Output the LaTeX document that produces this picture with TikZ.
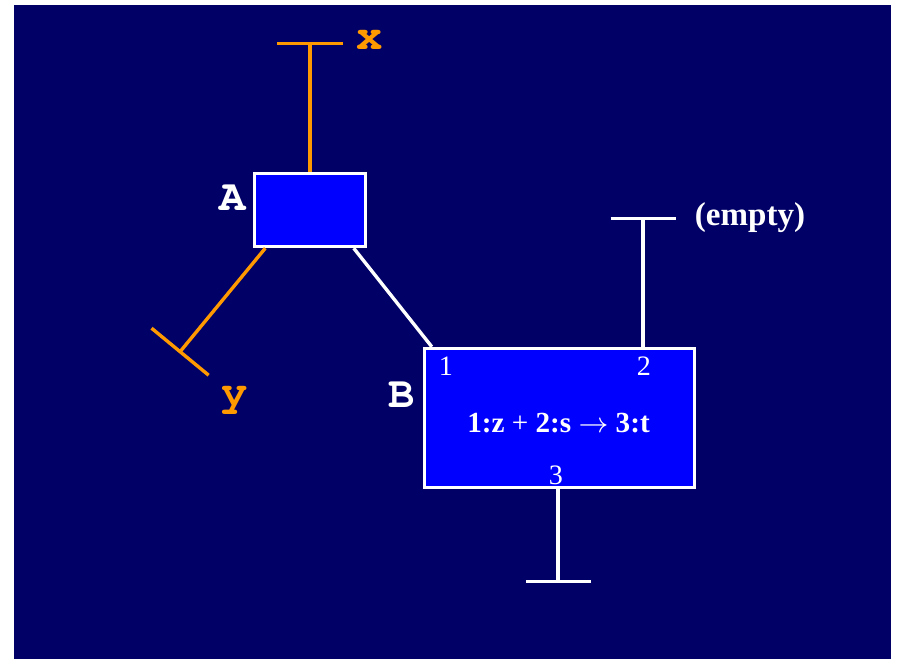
\documentclass[tikz,border=0pt]{standalone}
\usepackage{fontspec}
\setmainfont{Liberation Serif}
\newfontfamily\courierbold{texgyrecursor-bold}[Extension=.otf]
\usepackage{xcolor}
\usetikzlibrary{arrows.meta, calc}
\definecolor{slidebg}{HTML}{000066}
\definecolor{boxblue}{HTML}{0000FF}
\definecolor{wireorange}{HTML}{FF9900}

\begin{document}
\begin{tikzpicture}[
  wire/.style={line width=0.034cm, line cap=butt},
  endbar/.style={-{Bar[width=#1, line width=0.034cm]}},
  endbar/.default=0.66cm,
  cellbox/.style={draw=white, fill=boxblue, line width=0.034cm, inner sep=0pt},
  tag/.style={font=\courierbold\fontsize{12.5}{12.5}\selectfont, text=white},
  portnum/.style={font=\fontsize{8}{8}\selectfont, text=white, inner sep=0pt}
]
  \useasboundingbox (0,0) rectangle (8.99,-6.62);
  \fill[white] (0,0) rectangle (8.99,-6.62);
  \fill[slidebg] (0.14,-0.05) rectangle (8.91,-6.59);

  % boxes
  \node[cellbox, minimum width=1.11cm, minimum height=0.73cm] (boxA) at (3.10,-2.10) {};
  \node[cellbox, minimum width=2.70cm, minimum height=1.39cm] (boxB) at (5.595,-4.18) {};
  \node[tag] (labA) at (2.33,-1.98) {A};
  \node[tag] (labB) at (4.02,-3.95) {B};

  % inside B
  \node[portnum] (num1) at (4.46,-3.66) {1};
  \node[portnum] (num2) at (6.44,-3.66) {2};
  \node[portnum] (num3) at (5.56,-4.75) {3};
  \node[text=white, font=\bfseries\fontsize{8.3}{8.3}\selectfont] (rule) at (5.585,-4.23)
    {1:z \textmd{+} 2:s \(\rightarrow\) 3:t};

  % end points
  \coordinate (xend) at (3.10,-0.42);
  \coordinate (ystart) at ($(boxA.south west)+(0.125,0)$);
  \coordinate (yend) at (1.79,-3.53);
  \coordinate (abstart) at ($(boxA.south east)+(-0.135,0)$);
  \coordinate (port1) at ($(boxB.north west)+(0.09,0)$);
  \coordinate (port2) at (6.43,-3.47);
  \coordinate (twoend) at ($(port2)+(0,1.30)$);
  \coordinate (port3) at (5.58,-4.87);
  \coordinate (threeend) at ($(port3)+(0,-0.96)$);

  % connectors
  \draw[wire, wireorange, endbar] (boxA.north) -- (xend);
  \draw[wire, wireorange, endbar=0.74cm] (ystart) -- (yend);
  \draw[wire, white] (abstart) -- (port1);
  \draw[wire, white, endbar=0.65cm] (port2) -- (twoend);
  \draw[wire, white, endbar=0.65cm] (port3) -- (threeend);

  \node[tag, text=wireorange] (labx) at (3.70,-0.40) {x};
  \node[tag, text=wireorange] (laby) at (2.35,-4.00) {y};
  \node[text=white, font=\bfseries\fontsize{9.4}{9.4}\selectfont] (labempty) at (7.50,-2.18) {(empty)};
\end{tikzpicture}
\end{document}
